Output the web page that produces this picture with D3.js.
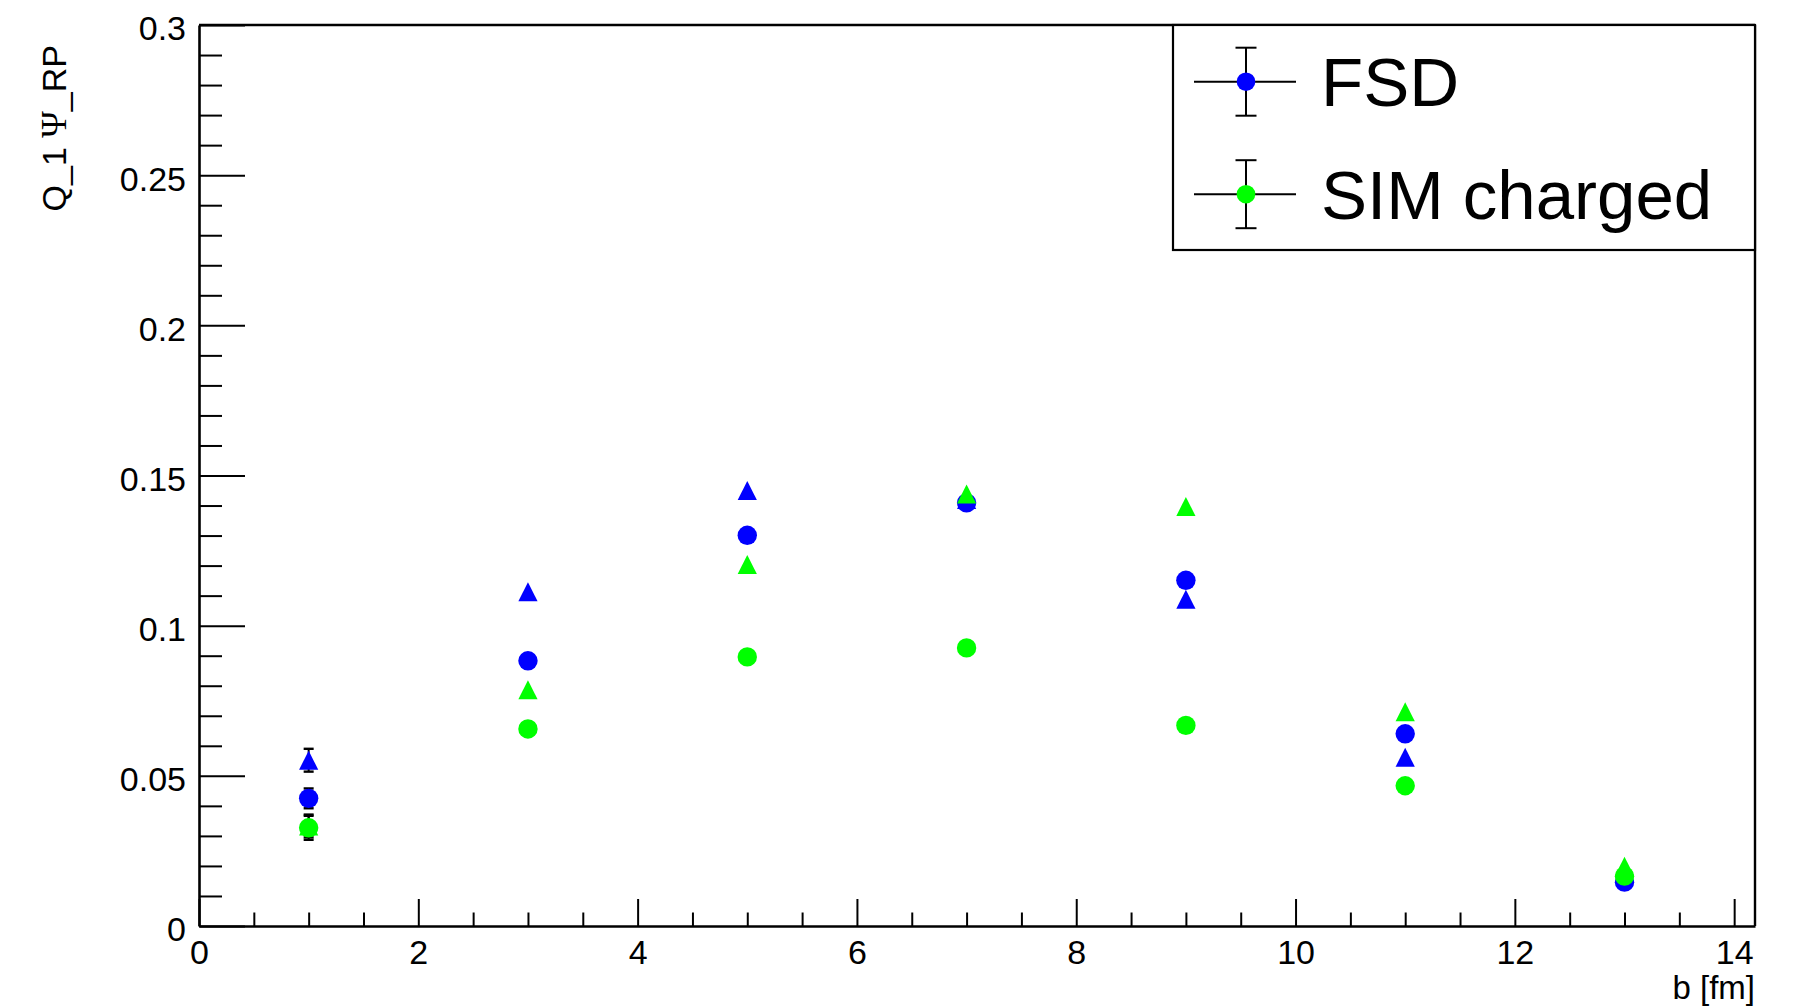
<!DOCTYPE html>
<html>
<head>
<meta charset="utf-8">
<script src="https://cdn.jsdelivr.net/npm/d3@7"></script>
<style>
  html, body { margin: 0; padding: 0; background: #fff; }
  svg { display: block; }
  text { font-family: "Liberation Sans", Arial, Helvetica, sans-serif; fill: #000; }
</style>
</head>
<body>
<svg id="chart" width="1794" height="1006"></svg>
<script>
// Impact parameter bins (fm)
const bValues = [1, 3, 5, 7, 9, 11, 13];

// FSD: circle and triangle markers
const fsdCircle      = [0.0425, 0.0883, 0.1301, 0.1409, 0.1151, 0.0640, 0.0146];
const fsdCircleErr   = [0.0033, 0, 0, 0, 0, 0, 0];
const fsdTriangle    = [0.0552, 0.1113, 0.1450, 0.1420, 0.1088, 0.0562, 0.0180];
const fsdTriangleErr = [0.0038, 0, 0, 0, 0, 0, 0];

// SIM charged: circle and triangle markers
const simCircle      = [0.0327, 0.0656, 0.0896, 0.0926, 0.0668, 0.0467, 0.0166];
const simCircleErr   = [0.0040, 0, 0, 0, 0, 0, 0];
const simTriangle    = [0.0333, 0.0787, 0.1204, 0.1438, 0.1397, 0.0713, 0.0199];
const simTriangleErr = [0.0038, 0, 0, 0, 0, 0, 0];

// Axis ticks and labels
const xMajorTicks = [0, 2, 4, 6, 8, 10, 12, 14];
const xTickLabels = ["0", "2", "4", "6", "8", "10", "12", "14"];
const yMajorTicks = [0, 0.05, 0.1, 0.15, 0.2, 0.25, 0.3];
const yTickLabels = ["0", "0.05", "0.1", "0.15", "0.2", "0.25", "0.3"];
const xRange = [0, 14.19];
const yRange = [0, 0.3];

const legendEntries = [
  { label: "FSD", color: "#0000ff" },
  { label: "SIM charged", color: "#00ff00" }
];

const svg = d3.select("#chart");
svg.append("rect").attr("width", 1794).attr("height", 1006).attr("fill", "#fff");

const x = d3.scaleLinear().domain(xRange).range([199, 1755]);
const y = d3.scaleLinear().domain(yRange).range([926, 25]);

const xMinorTicks = d3.range(0, xRange[1] + 1e-9, 0.5).filter(v => !xMajorTicks.includes(v));
const yMinorTicks = d3.range(0, yRange[1] + 1e-9, 0.01).map(v => +v.toFixed(4))
  .filter(v => !yMajorTicks.some(m => Math.abs(m - v) < 1e-6));

// Minor ticks
svg.append("g")
  .attr("transform", `translate(0,${y(0)})`)
  .call(d3.axisBottom(x).tickValues(xMinorTicks).tickSize(-13.5).tickSizeOuter(0).tickFormat(""))
  .call(g => g.select(".domain").remove())
  .call(g => g.selectAll("line").attr("stroke", "#000").attr("stroke-width", 2));

svg.append("g")
  .attr("transform", `translate(${x(0)},0)`)
  .call(d3.axisLeft(y).tickValues(yMinorTicks).tickSize(-23).tickSizeOuter(0).tickFormat(""))
  .call(g => g.select(".domain").remove())
  .call(g => g.selectAll("line").attr("stroke", "#000").attr("stroke-width", 2));

// Major x axis
svg.append("g")
  .attr("transform", `translate(0,${y(0)})`)
  .call(d3.axisBottom(x).tickValues(xMajorTicks).tickSize(-27).tickSizeOuter(0).tickPadding(14)
    .tickFormat((d, i) => xTickLabels[i]))
  .call(g => g.select(".domain").attr("stroke", "#000").attr("stroke-width", 2.6))
  .call(g => g.selectAll("line").attr("stroke", "#000").attr("stroke-width", 2))
  .call(g => g.selectAll("text").attr("font-size", 34).attr("fill", "#000")
    .attr("font-family", "'Liberation Sans', Arial, sans-serif"));

// Major y axis
svg.append("g")
  .attr("transform", `translate(${x(0)},0)`)
  .call(d3.axisLeft(y).tickValues(yMajorTicks).tickSize(-46).tickSizeOuter(0).tickPadding(13)
    .tickFormat((d, i) => yTickLabels[i]))
  .call(g => g.select(".domain").attr("stroke", "#000").attr("stroke-width", 2.6))
  .call(g => g.selectAll("line").attr("stroke", "#000").attr("stroke-width", 2))
  .call(g => g.selectAll("text").attr("font-size", 34).attr("fill", "#000").attr("dy", "0.44em")
    .attr("font-family", "'Liberation Sans', Arial, sans-serif"));

// Frame top and right
svg.append("line").attr("x1", x(0)).attr("x2", x(xRange[1])).attr("y1", y(yRange[1])).attr("y2", y(yRange[1]))
  .attr("stroke", "#000").attr("stroke-width", 2.4);
svg.append("line").attr("x1", x(xRange[1])).attr("x2", x(xRange[1])).attr("y1", y(yRange[1])).attr("y2", y(0))
  .attr("stroke", "#000").attr("stroke-width", 2.4);

// Axis titles
svg.append("text")
  .attr("x", x(xRange[1])).attr("y", 999)
  .attr("text-anchor", "end").attr("font-size", 33)
  .text("b [fm]");

const yTitle = svg.append("text")
  .attr("transform", "translate(66,45) rotate(-90)")
  .attr("text-anchor", "end").attr("font-size", 34);
yTitle.append("tspan").text("Q_1 ");
yTitle.append("tspan").attr("font-family", "'Liberation Serif', 'DejaVu Serif', serif").attr("font-size", 36).text("\u03A8");
yTitle.append("tspan").text("_RP");

// Marker shapes
const R = 9.7;
const triPath = (cx, cy) => `M${cx - 9.6},${cy + 9.5}L${cx + 9.6},${cy + 9.5}L${cx},${cy - 9.5}Z`;

function drawSeries(values, errs, color, shape) {
  const g = svg.append("g");
  const pts = bValues.map((b, i) => ({ b, v: values[i], e: errs[i] }));
  // error bars
  pts.filter(p => p.e > 0).forEach(p => {
    const cx = x(p.b);
    g.append("line").attr("x1", cx).attr("x2", cx).attr("y1", y(p.v + p.e)).attr("y2", y(p.v - p.e))
      .attr("stroke", "#000").attr("stroke-width", 2);
    [p.v + p.e, p.v - p.e].forEach(v => {
      g.append("line").attr("x1", cx - 5).attr("x2", cx + 5).attr("y1", y(v)).attr("y2", y(v))
        .attr("stroke", "#000").attr("stroke-width", 2.4);
    });
  });
  if (shape === "circle") {
    g.selectAll("circle").data(pts).join("circle")
      .attr("cx", d => x(d.b)).attr("cy", d => y(d.v)).attr("r", R).attr("fill", color);
  } else {
    g.selectAll("path").data(pts).join("path")
      .attr("d", d => triPath(x(d.b), y(d.v))).attr("fill", color);
  }
}

drawSeries(fsdTriangle, fsdTriangleErr, "#0000ff", "triangle");
drawSeries(fsdCircle, fsdCircleErr, "#0000ff", "circle");
drawSeries(simTriangle, simTriangleErr, "#00ff00", "triangle");
drawSeries(simCircle, simCircleErr, "#00ff00", "circle");

// Legend
const legend = svg.append("g");
legend.append("rect")
  .attr("x", 1173).attr("y", 25).attr("width", x(xRange[1]) - 1173).attr("height", 225)
  .attr("fill", "#fff").attr("stroke", "#000").attr("stroke-width", 2.2);

legendEntries.forEach((entry, i) => {
  const cy = 81.7 + i * 112.5;
  const cx = 1246;
  legend.append("line").attr("x1", 1194).attr("x2", 1296).attr("y1", cy).attr("y2", cy)
    .attr("stroke", "#000").attr("stroke-width", 2);
  legend.append("line").attr("x1", cx).attr("x2", cx).attr("y1", cy - 34).attr("y2", cy + 34)
    .attr("stroke", "#000").attr("stroke-width", 2);
  [cy - 34, cy + 34].forEach(yy => {
    legend.append("line").attr("x1", cx - 10.5).attr("x2", cx + 10.5).attr("y1", yy).attr("y2", yy)
      .attr("stroke", "#000").attr("stroke-width", 2);
  });
  legend.append("circle").attr("cx", cx).attr("cy", cy).attr("r", 9.3).attr("fill", entry.color);
  legend.append("text").attr("x", 1321).attr("y", cy + 24.5)
    .attr("font-size", 69).text(entry.label);
});
</script>
</body>
</html>
